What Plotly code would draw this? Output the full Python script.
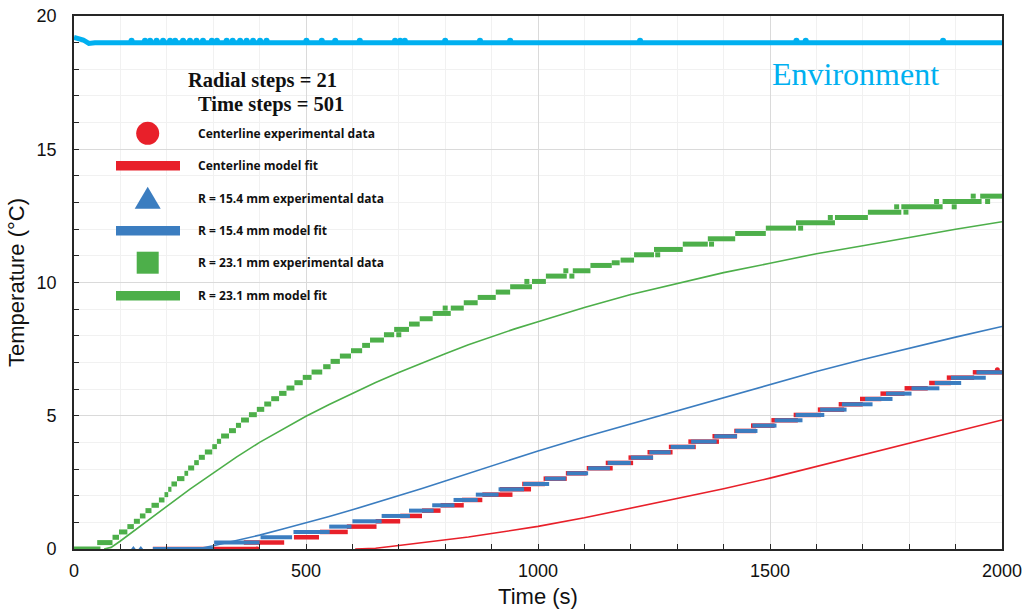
import plotly.graph_objects as go

# ---------------- data ----------------
# Environment
env_t = [0, 10, 20, 32, 45, 2000]
env_T = [19.2, 19.15, 19.1, 18.97, 19.0, 19.0]
env_bump_t = [124, 153, 164, 178, 192, 207, 218, 235, 250, 264, 278, 297, 308, 329, 342,
              358, 372, 386, 401, 415, 501, 534, 563, 616, 692, 703, 713, 800, 875, 940,
              1220, 1557, 1577, 1873]
env_bump_T = [19.07] * len(env_bump_t)

# Centerline experimental data (quantized plateaus: level, start, end)
red_lvl = [0, 0.24, 0.44, 0.64, 0.84, 1.04, 1.24, 1.44, 1.64, 1.84, 2.04, 2.24, 2.44, 2.64,
           2.84, 3.03, 3.23, 3.43, 3.63, 3.83, 4.03, 4.23, 4.43, 4.63, 4.83, 5.03, 5.23,
           5.43, 5.63, 5.83, 6.03, 6.23, 6.43, 6.63]
red_t0 = [170, 366, 474, 530, 588, 650, 703, 750, 790, 836, 880, 918, 966, 1012, 1060, 1105,
          1146, 1195, 1236, 1282, 1324, 1376, 1423, 1459, 1503, 1551, 1603, 1648, 1694, 1738,
          1790, 1843, 1881, 1937]
red_t1 = [395, 453, 528, 590, 652, 703, 750, 790, 840, 880, 945, 985, 1015, 1062, 1105, 1161,
          1205, 1248, 1290, 1340, 1390, 1429, 1470, 1510, 1560, 1610, 1660, 1700, 1740, 1790,
          1840, 1890, 1940, 2000]
red_dot_t = [395, 1990]
red_dot_T = [0.0, 6.73]

# Centerline model fit
red_fit_t = [606, 650, 700, 750, 800, 850, 900, 1000, 1100, 1200, 1300, 1400, 1500, 1600,
             1700, 1800, 1900, 2000]
red_fit_T = [0.0, 0.03, 0.13, 0.23, 0.33, 0.45, 0.58, 0.85, 1.17, 1.53, 1.9, 2.26, 2.66, 3.1,
             3.53, 3.97, 4.4, 4.84]

# R = 15.4 mm experimental data
blue_lvl = [0, 0.24, 0.44, 0.64, 0.84, 1.04, 1.24, 1.44, 1.64, 1.84, 2.04, 2.24, 2.44, 2.64,
            2.84, 3.03, 3.23, 3.43, 3.63, 3.83, 4.03, 4.23, 4.43, 4.63, 4.83, 5.03, 5.23,
            5.43, 5.63, 5.83, 6.03, 6.23, 6.43, 6.63]
blue_t0 = [170, 302, 402, 473, 550, 600, 663, 722, 772, 818, 866, 915, 968, 1015, 1062, 1108,
           1150, 1200, 1240, 1286, 1330, 1380, 1425, 1462, 1510, 1555, 1608, 1655, 1705, 1750,
           1805, 1855, 1890, 1945]
blue_t1 = [302, 400, 470, 551, 598, 663, 724, 775, 820, 870, 915, 970, 1024, 1060, 1108, 1155,
           1200, 1248, 1286, 1338, 1385, 1429, 1473, 1514, 1570, 1617, 1665, 1721, 1764, 1805,
           1865, 1912, 1965, 2000]
blue_dot_t = [128, 144]
blue_dot_T = [0.0, 0.0]

# R = 15.4 mm model fit
blue_fit_t = [270, 300, 350, 400, 450, 500, 550, 600, 650, 700, 750, 800, 850, 900, 1000,
              1100, 1200, 1300, 1400, 1500, 1600, 1700, 1800, 1900, 2000]
blue_fit_T = [0.02, 0.12, 0.32, 0.52, 0.75, 0.98, 1.22, 1.47, 1.73, 2.0, 2.27, 2.55, 2.83,
              3.12, 3.68, 4.2, 4.69, 5.18, 5.68, 6.18, 6.66, 7.11, 7.54, 7.95, 8.35]

# R = 23.1 mm experimental data
green_lvl = [0, 0.24, 0.44, 0.64, 0.84, 1.04, 1.24, 1.44, 1.64, 1.84, 2.04, 2.24, 2.44, 2.64,
             2.84, 3.04, 3.24, 3.44, 3.64, 3.84, 4.04, 4.24, 4.44, 4.64, 4.84, 5.04, 5.24,
             5.44, 5.64, 5.84, 6.04, 6.24, 6.44, 6.64, 6.84, 7.04, 7.24, 7.44, 7.64, 7.84,
             8.04, 8.24, 8.44, 8.64, 8.84, 9.04, 9.24, 9.44, 9.64, 9.84, 10.04, 10.24, 10.44,
             10.64, 10.74, 10.84, 11.04, 11.24, 11.44, 11.64, 11.84, 12.04, 12.24, 12.44,
             12.64, 12.84, 13.04, 13.24]
green_t0 = [0, 50, 83, 97, 115, 129, 142, 154, 167, 183, 195, 203, 210, 222, 238, 246, 259,
            269, 282, 298, 308, 317, 334, 349, 360, 377, 394, 410, 425, 442, 458, 475, 493,
            512, 537, 553, 573, 597, 621, 638, 668, 690, 722, 745, 773, 812, 840, 870, 909,
            940, 987, 1017, 1075, 1113, 1159, 1178, 1207, 1250, 1312, 1366, 1425, 1491, 1556,
            1640, 1711, 1783, 1872, 1953]
green_t1 = [57, 83, 97, 115, 129, 142, 154, 167, 183, 195, 203, 210, 222, 238, 246, 259, 269,
            282, 298, 308, 317, 334, 349, 360, 377, 394, 410, 425, 442, 458, 475, 493, 512,
            535, 553, 573, 597, 621, 638, 668, 690, 722, 745, 773, 812, 840, 870, 909, 940,
            987, 1017, 1062, 1113, 1159, 1176, 1207, 1250, 1312, 1366, 1425, 1491, 1556, 1640,
            1711, 1783, 1872, 1956, 2000]
green_dot_t = [700, 800, 976, 1073, 1060, 1258, 1374, 1566, 1630, 1793, 1773, 1897, 1859,
               1969, 1938]
green_dot_T = [8.04, 9.04, 10.04, 10.24, 10.44, 11.04, 11.44, 12.04, 12.44, 12.64, 12.84,
               12.84, 13.04, 13.04, 13.24]

# R = 23.1 mm model fit
green_fit_t = [65, 80, 100, 150, 200, 250, 300, 350, 400, 450, 500, 550, 600, 650, 700, 750,
               800, 850, 900, 950, 1000, 1100, 1200, 1300, 1400, 1500, 1600, 1700, 1800,
               1900, 2000]
green_fit_T = [0.0, 0.06, 0.3, 0.95, 1.6, 2.25, 2.85, 3.45, 4.0, 4.5, 4.98, 5.42, 5.85,
               6.25, 6.62, 6.98, 7.33, 7.66, 7.97, 8.26, 8.53, 9.06, 9.55, 9.97, 10.37,
               10.72, 11.08, 11.38, 11.7, 12.0, 12.28]

legend_labels = ["Centerline experimental data", "Centerline model fit",
                 "R = 15.4 mm experimental data", "R = 15.4 mm model fit",
                 "R = 23.1 mm experimental data", "R = 23.1 mm model fit"]

# ---------------- styles ----------------
RED = "#E8202A"
BLUE = "#3B7DC0"
GREEN = "#4DAF4A"
ENV = "#00B0F0"
SANS = "Liberation Sans, Arial, sans-serif"
SERIF = "Liberation Serif, Times New Roman, serif"

W, H = 1027, 615
L, R, T, B = 74, 25, 16, 66
PW, PH = W - L - R, H - T - B


def px(x):
    return (x - L) / PW


def py(y):
    return (H - B - y) / PH


def segs(levels, t0, t1):
    xs, ys = [], []
    for v, a, b in zip(levels, t0, t1):
        xs += [a, b, None]
        ys += [v, v, None]
    return xs, ys


fig = go.Figure()

# environment
fig.add_trace(go.Scatter(x=env_t, y=env_T, mode="lines",
                         line=dict(color=ENV, width=5), showlegend=False))
fig.add_trace(go.Scatter(x=env_bump_t, y=env_bump_T, mode="markers",
                         marker=dict(color=ENV, size=6), showlegend=False))

# centerline
rx, ry = segs(red_lvl, red_t0, red_t1)
fig.add_trace(go.Scatter(x=rx, y=ry, mode="lines", line=dict(color=RED, width=4.5),
                         showlegend=False))
fig.add_trace(go.Scatter(x=red_dot_t, y=red_dot_T, mode="markers",
                         marker=dict(color=RED, size=5), showlegend=False))
fig.add_trace(go.Scatter(x=red_fit_t, y=red_fit_T, mode="lines",
                         line=dict(color=RED, width=1.6), showlegend=False))

# R = 15.4
bx, by = segs(blue_lvl, blue_t0, blue_t1)
fig.add_trace(go.Scatter(x=bx, y=by, mode="lines", line=dict(color=BLUE, width=4),
                         showlegend=False))
fig.add_trace(go.Scatter(x=blue_dot_t, y=blue_dot_T, mode="markers",
                         marker=dict(color=BLUE, size=6, symbol="triangle-up"),
                         showlegend=False))
fig.add_trace(go.Scatter(x=blue_fit_t, y=blue_fit_T, mode="lines",
                         line=dict(color=BLUE, width=1.6), showlegend=False))

# R = 23.1
gx, gy = segs(green_lvl, green_t0, green_t1)
fig.add_trace(go.Scatter(x=gx, y=gy, mode="lines", line=dict(color=GREEN, width=5),
                         showlegend=False))
fig.add_trace(go.Scatter(x=green_dot_t, y=green_dot_T, mode="markers",
                         marker=dict(color=GREEN, size=5, symbol="square"),
                         showlegend=False))
fig.add_trace(go.Scatter(x=green_fit_t, y=green_fit_T, mode="lines",
                         line=dict(color=GREEN, width=1.6), showlegend=False))

# ---------------- custom legend ----------------
shapes = []
cx = 147.7
rows = [133.3, 165.7, 198.3, 230.7, 262.7, 295.7]
shapes.append(dict(type="circle", xref="paper", yref="paper",
                   x0=px(cx - 11.5), x1=px(cx + 11.5), y0=py(rows[0] + 11.5), y1=py(rows[0] - 11.5),
                   fillcolor=RED, line=dict(width=0)))
for r, c in [(rows[1], RED), (rows[3], BLUE), (rows[5], GREEN)]:
    shapes.append(dict(type="rect", xref="paper", yref="paper",
                       x0=px(116), x1=px(180), y0=py(r + 4.8), y1=py(r - 4.8),
                       fillcolor=c, line=dict(width=0)))
tri = "M {:.5f} {:.5f} L {:.5f} {:.5f} L {:.5f} {:.5f} Z".format(
    px(cx), py(rows[2] - 11.5), px(cx - 13), py(rows[2] + 10.5), px(cx + 13), py(rows[2] + 10.5))
shapes.append(dict(type="path", xref="paper", yref="paper", path=tri,
                   fillcolor=BLUE, line=dict(width=0)))
shapes.append(dict(type="rect", xref="paper", yref="paper",
                   x0=px(cx - 11), x1=px(cx + 11), y0=py(rows[4] + 11), y1=py(rows[4] - 11),
                   fillcolor=GREEN, line=dict(width=0)))

annotations = []
for r, lab in zip(rows, legend_labels):
    annotations.append(dict(x=px(196), y=py(r), xref="paper", yref="paper", text="<b>" + lab + "</b>",
                            showarrow=False, xanchor="left", yanchor="middle",
                            font=dict(family="Open Sans, sans-serif", size=12, color="#111111")))
annotations.append(dict(x=px(262.5), y=py(80), xref="paper", yref="paper",
                        text="<b>Radial steps = 21</b>", showarrow=False,
                        xanchor="center", yanchor="middle",
                        font=dict(family=SERIF, size=20.5, color="#111111")))
annotations.append(dict(x=px(270.5), y=py(104), xref="paper", yref="paper",
                        text="<b>Time steps = 501</b>", showarrow=False,
                        xanchor="center", yanchor="middle",
                        font=dict(family=SERIF, size=20.5, color="#111111")))
annotations.append(dict(x=px(855), y=py(74), xref="paper", yref="paper",
                        text="Environment", showarrow=False,
                        xanchor="center", yanchor="middle",
                        font=dict(family=SERIF, size=32, color=ENV)))

axis_common = dict(showline=True, linecolor="#262626", linewidth=1.6, mirror=True,
                   ticks="inside", ticklen=5, tickcolor="#262626", tickwidth=1,
                   gridcolor="#DADADA", gridwidth=1.2, zeroline=False, automargin=False,
                   tickfont=dict(family=SANS, size=18, color="#111111"))

fig.update_layout(
    width=W, height=H,
    margin=dict(l=L, r=R, t=T, b=B),
    paper_bgcolor="white", plot_bgcolor="white",
    showlegend=False,
    shapes=shapes,
    annotations=annotations,
    xaxis=dict(range=[0, 2000], dtick=500, tick0=0,
               minor=dict(dtick=100, showgrid=True, gridcolor="#F1F1F1", gridwidth=1,
                          ticks="inside", ticklen=5, tickcolor="#262626"),
               title=dict(text="Time (s)", font=dict(family=SANS, size=22, color="#111111"),
                          standoff=8),
               ticklabelstandoff=5,
               **axis_common),
    yaxis=dict(range=[0, 20], dtick=5, tick0=0,
               minor=dict(dtick=1, showgrid=True, gridcolor="#F1F1F1", gridwidth=1,
                          ticks="inside", ticklen=5, tickcolor="#262626"),
               title=dict(text="Temperature (°C)", font=dict(family=SANS, size=22, color="#111111"),
                          standoff=6),
               ticklabelstandoff=12,
               **axis_common),
)

fig.write_html("out.html")
